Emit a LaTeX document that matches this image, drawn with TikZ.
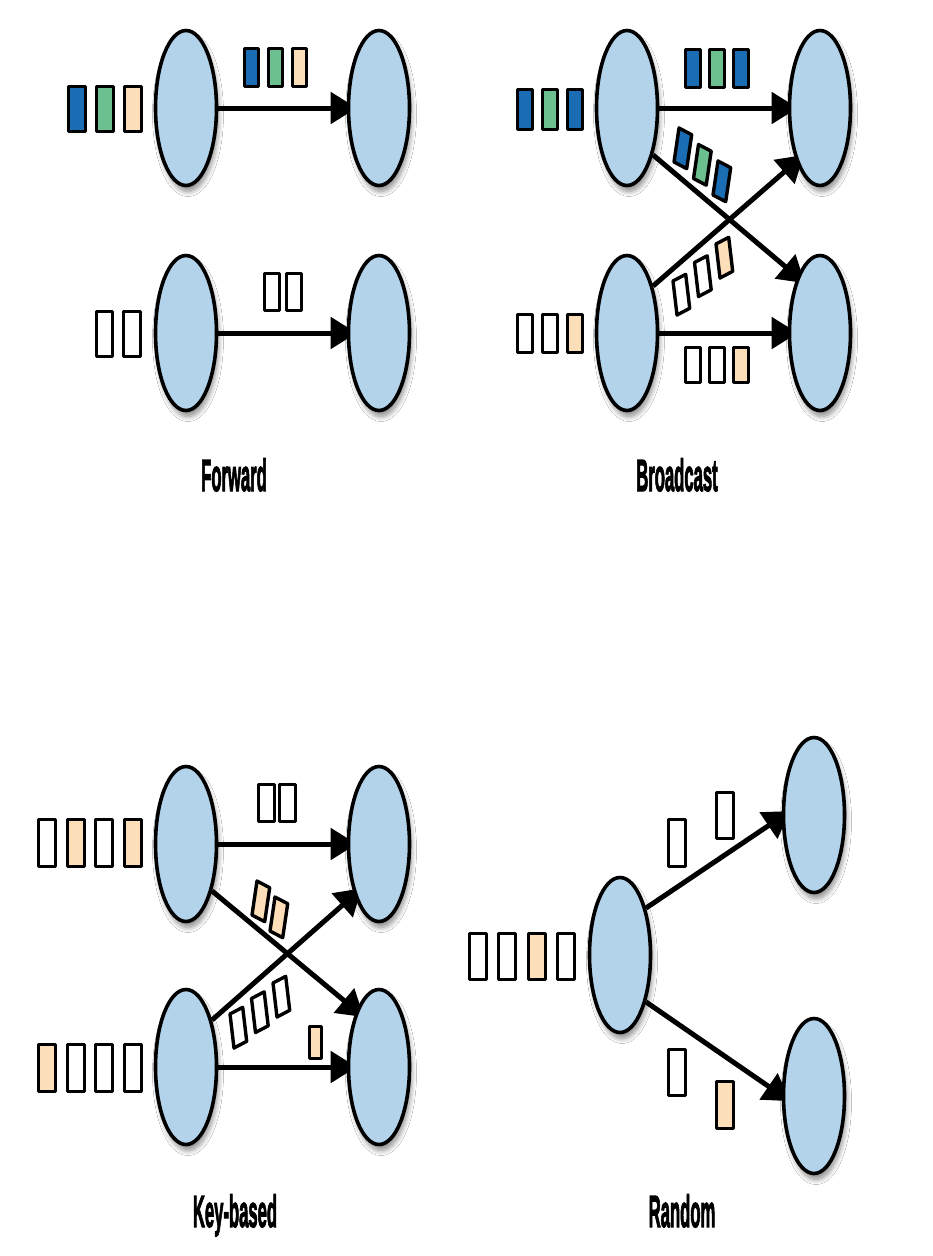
\documentclass[tikz,border=0pt]{standalone}
\usepackage{fontspec}
\setmainfont{Liberation Sans}
\newfontfamily\labfont{Liberation Sans}[UprightFont=*-Bold, UprightFeatures={FakeBold=3}]
\usepackage{graphicx}
\usetikzlibrary{shapes.geometric,arrows.meta,backgrounds,shadows.blur}
\definecolor{ell}{HTML}{B3D3EA}
\definecolor{dblue}{HTML}{1A6CB3}
\definecolor{mgreen}{HTML}{6CBF8F}
\definecolor{peach}{HTML}{FCDEB9}
\newcommand\mybox[5]{\draw[sq,fill=#5] (#1+1.7,#2+1.7) rectangle (#3-1.7,#4-1.7);}
\newcommand\mypar[7]{\draw[sq,fill=#7] (#1,#2) -- ++(#3,#4) -- ++(#5,#6) -- ++({-(#3)},{-(#4)}) -- cycle;}
\tikzset{
  proc/.style={ellipse, draw=black, line width=3.6pt, fill=ell, minimum width=61pt, minimum height=155pt, inner sep=0pt,
    blur shadow={shadow xshift=2pt, shadow yshift=-6pt, shadow opacity=45, shadow blur steps=8, shadow blur radius=5pt}},
  arr/.style={line width=5pt, -{Triangle[length=26pt,width=31pt]}, shorten >=-10pt},
  sq/.style={draw=black, line width=3.4pt, line join=round},
  lab/.style={anchor=base, inner sep=0pt, font=\fontsize{45}{50}\labfont}
}
\begin{document}
\begin{tikzpicture}[x=1pt,y=-1pt]
\path[use as bounding box] (0,0) rectangle (932,1256);

% ---------- Forward ----------
\node[proc] (fa) at (186,108) {};
\node[proc] (fb) at (379,108) {};
\node[proc] (fc) at (186,333) {};
\node[proc] (fd) at (379,333) {};
% ---------- Broadcast ----------
\node[proc] (ba) at (627,108) {};
\node[proc] (bb) at (820,108) {};
\node[proc] (bc) at (627,333) {};
\node[proc] (bd) at (820,333) {};
% ---------- Key-based ----------
\node[proc] (ka) at (186,844) {};
\node[proc] (kb) at (379,844) {};
\node[proc] (kc) at (186,1067) {};
\node[proc] (kd) at (379,1067) {};
% ---------- Random ----------
\node[proc] (ra) at (620,955) {};
\node[proc] (rb) at (814,815) {};
\node[proc] (rc) at (814,1096) {};

\begin{scope}[on background layer]
\fill[white] (0,0) rectangle (932,1256);
\draw[arr] (fa) -- (fb);
\draw[arr] (fc) -- (fd);
\draw[arr] (ba) -- (bb);
\draw[arr] (bc) -- (bd);
\draw[arr] (ba.-61) -- (bd.112);
\draw[arr] (bc.61) -- (bb.-114);
\draw[arr] (ka) -- (kb);
\draw[arr] (kc) -- (kd);
\draw[arr] (ka.-61) -- (kd.112);
\draw[arr] (kc.61) -- (kb.-116);
\draw[arr] (ra.61) -- (rb.183);
\draw[arr] (ra.-61) -- (rc.179);
\end{scope}

% Forward boxes
\mybox{67}{85}{87}{133}{dblue}
\mybox{95}{85}{115}{133}{mgreen}
\mybox{123}{85}{143}{133}{peach}
\mybox{243}{47}{260}{88}{dblue}
\mybox{267}{47}{284}{88}{mgreen}
\mybox{291}{47}{308}{88}{peach}
\mybox{95}{310}{114}{358}{white}
\mybox{122}{310}{142}{358}{white}
\mybox{263}{272}{281}{312}{white}
\mybox{285}{272}{303}{312}{white}

% Broadcast boxes
\mybox{516}{88}{534}{131}{dblue}
\mybox{541}{88}{559}{131}{mgreen}
\mybox{566}{88}{584}{131}{dblue}
\mybox{684}{48}{702}{89}{dblue}
\mybox{708}{48}{726}{89}{mgreen}
\mybox{732}{48}{750}{89}{dblue}
\mybox{516}{313}{534}{354}{white}
\mybox{541}{313}{559}{354}{white}
\mybox{566}{313}{584}{354}{peach}
\mybox{684}{346}{702}{384}{white}
\mybox{708}{346}{726}{384}{white}
\mybox{732}{346}{750}{384}{peach}
\mypar{674}{162}{12.7}{6.7}{5}{-34}{dblue}
\mypar{693.5}{178.5}{12.7}{6.7}{5}{-34}{mgreen}
\mypar{713}{195}{12.7}{6.7}{5}{-34}{dblue}
\mypar{677}{315}{12.7}{-6.7}{-4}{-34}{white}
\mypar{698.5}{296.5}{12.7}{-6.7}{-4}{-34}{white}
\mypar{720}{278}{12.7}{-6.7}{-4}{-34}{peach}

% Key-based boxes
\mybox{37}{818}{57}{868}{white}
\mybox{66}{818}{86}{868}{peach}
\mybox{94}{818}{114}{868}{white}
\mybox{123}{818}{143}{868}{peach}
\mybox{37}{1043}{57}{1093}{peach}
\mybox{66}{1043}{86}{1093}{white}
\mybox{94}{1043}{114}{1093}{white}
\mybox{123}{1043}{143}{1093}{white}
\mybox{257}{783}{276}{823}{white}
\mybox{278}{783}{297}{823}{white}
\mybox{308}{1025}{323}{1060}{peach}
\mypar{252}{915}{12.7}{6.7}{5}{-34}{peach}
\mypar{270}{931}{12.7}{6.7}{5}{-34}{peach}
\mypar{234}{1048}{12.7}{-6.7}{-4}{-34}{white}
\mypar{255.5}{1032.5}{12.7}{-6.7}{-4}{-34}{white}
\mypar{277}{1017}{12.7}{-6.7}{-4}{-34}{white}

% Random boxes
\mybox{468}{932}{488}{981}{white}
\mybox{497}{932}{517}{981}{white}
\mybox{527}{932}{547}{981}{peach}
\mybox{556}{932}{576}{981}{white}
\mybox{667}{818}{687}{868}{white}
\mybox{715}{791}{735}{840}{white}
\mybox{667}{1048}{687}{1097}{white}
\mybox{715}{1080}{735}{1130}{peach}

% Labels
\node[lab] (lf) at (234,491) {\scalebox{0.37}[1]{Forward}};
\node[lab] (lb) at (677,491) {\scalebox{0.37}[1]{Broadcast}};
\node[lab] (lk) at (235,1227) {\scalebox{0.37}[1]{Key-based}};
\node[lab] (lr) at (682,1227) {\scalebox{0.37}[1]{Random}};
\end{tikzpicture}
\end{document}
